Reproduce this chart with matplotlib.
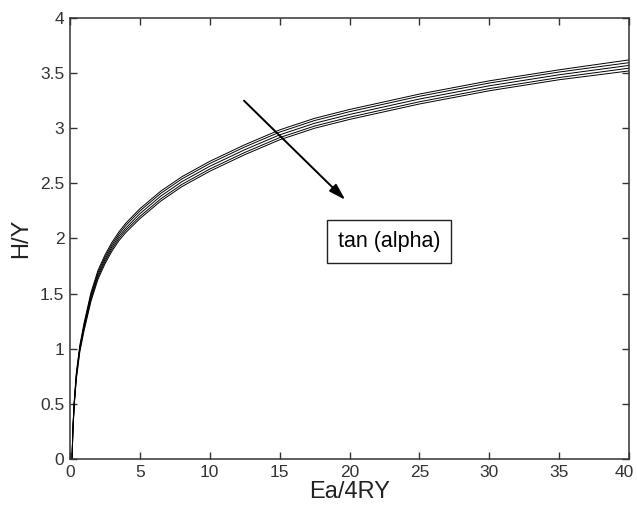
import numpy as np
import matplotlib
matplotlib.use("Agg")
import matplotlib.pyplot as plt
from matplotlib.transforms import ScaledTranslation

plt.rcParams['font.family'] = ['Liberation Sans', 'DejaVu Sans']

x_vals = [0.15, 0.2, 0.3, 0.45, 0.7, 1, 1.5, 2, 2.5, 3, 3.5, 4, 5, 6.5, 8, 10,
          12.5, 15, 17.5, 20, 25, 30, 35, 40]

# H/Y, one list per tan(alpha) (top to bottom of the band)
hy_1 = [0.02, 0.27, 0.52, 0.78, 1.03, 1.23, 1.51, 1.71, 1.85, 1.965, 2.06, 2.14, 2.27,
        2.43, 2.56, 2.70, 2.85, 2.985, 3.09, 3.17, 3.31, 3.43, 3.53, 3.62]
hy_2 = [0.01, 0.26, 0.51, 0.76, 1.01, 1.21, 1.49, 1.69, 1.83, 1.945, 2.04, 2.12, 2.25,
        2.41, 2.54, 2.68, 2.83, 2.965, 3.07, 3.15, 3.29, 3.41, 3.51, 3.595]
hy_3 = [0.0, 0.25, 0.50, 0.75, 1.00, 1.20, 1.47, 1.67, 1.81, 1.925, 2.02, 2.095, 2.225,
        2.385, 2.515, 2.655, 2.805, 2.94, 3.045, 3.125, 3.265, 3.385, 3.485, 3.57]
hy_4 = [0.0, 0.24, 0.49, 0.74, 0.99, 1.18, 1.45, 1.65, 1.79, 1.905, 2.0, 2.075, 2.20,
        2.36, 2.49, 2.63, 2.78, 2.915, 3.02, 3.10, 3.24, 3.36, 3.46, 3.545]
hy_5 = [0.0, 0.23, 0.48, 0.72, 0.97, 1.16, 1.43, 1.63, 1.77, 1.885, 1.98, 2.055, 2.18,
        2.34, 2.47, 2.61, 2.76, 2.895, 3.0, 3.08, 3.22, 3.34, 3.44, 3.52]

x_ticks = [0, 5, 10, 15, 20, 25, 30, 35, 40]
y_ticks = [0, 0.5, 1, 1.5, 2, 2.5, 3, 3.5, 4]

fig = plt.figure(figsize=(6.37, 5.07), dpi=100)
ax = fig.add_axes([0.1099, 0.0947, 0.8776, 0.8698])

for hy in [hy_1, hy_2, hy_3, hy_4, hy_5]:
    ax.plot(x_vals, hy, color='black', lw=0.7)

# arrow showing increasing tan(alpha)
ax.annotate('', xy=(19.7, 2.35), xytext=(12.45, 3.25),
            arrowprops=dict(arrowstyle='-|>,head_length=1.0,head_width=0.3',
                            color='black', lw=1.4, shrinkA=0, shrinkB=0))
ax.text(22.85, 1.975, 'tan (alpha)', fontsize=15.5, ha='center', va='center',
        bbox=dict(boxstyle='square,pad=0.5', fc='white', ec='#222222', lw=1))

ax.set_xlim(0, 40)
ax.set_ylim(0, 4)
ax.set_xticks(x_ticks)
ax.set_xticklabels([str(v) for v in x_ticks])
ax.set_yticks(y_ticks)
ax.set_yticklabels(['0', '0.5', '1', '1.5', '2', '2.5', '3', '3.5', '4'])
ax.tick_params(direction='in', length=5, width=1, top=True, right=True,
               labelsize=12.5, labelcolor='#333333', color='#333333', pad=4)
for s in ax.spines.values():
    s.set_color('#333333')
    s.set_linewidth(1.1)

# keep the last x label inside the figure
last = ax.get_xticklabels()[-1]
last.set_transform(last.get_transform() + ScaledTranslation(-5 / 100, 0, fig.dpi_scale_trans))

ax.set_xlabel('Ea/4RY', fontsize=17, color='#222222', labelpad=1)
ax.set_ylabel('H/Y', fontsize=17, color='#222222', labelpad=6)

fig.savefig('out.png', dpi=100)
